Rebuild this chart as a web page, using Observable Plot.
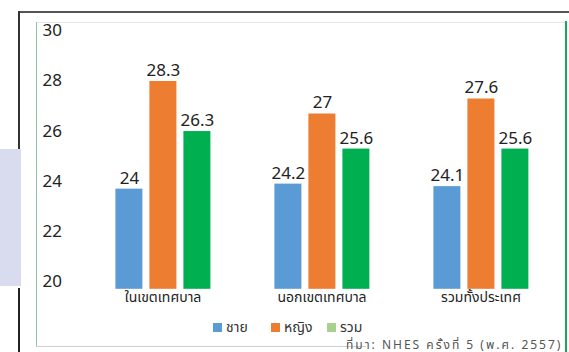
<!DOCTYPE html>
<html>
<head>
<meta charset="utf-8">
<script src="https://cdn.jsdelivr.net/npm/d3@7"></script>
<script src="https://cdn.jsdelivr.net/npm/@observablehq/plot@0.6"></script>
<style>
  html, body { margin: 0; padding: 0; background: #fff; }
  #wrap { position: relative; width: 569px; height: 352px; overflow: hidden; font-family: "Noto Sans", "Noto Sans Thai", "DejaVu Sans", sans-serif; }
  #wrap svg { position: absolute; left: 0; top: 0; }
  .deco { position: absolute; }
  .legend { position: absolute; top: 320px; left: 0; font-size: 14px; line-height: 14px; color: #333; }
  .legend .item { position: absolute; white-space: nowrap; display: flex; align-items: center; height: 14px; }
  .legend .sw { width: 9px; height: 9px; margin-right: 4px; display: inline-block; }
  .source { position: absolute; left: 346px; top: 338px; font-size: 12px; line-height: 13px; letter-spacing: 2px; color: #555; white-space: nowrap; }
</style>
</head>
<body>
<div id="wrap"></div>
<script>
const categories = ["ในเขตเทศบาล", "นอกเขตเทศบาล", "รวมทั้งประเทศ"];
const series = ["ชาย", "หญิง", "รวม"];
const male = [24, 24.2, 24.1];
const female = [28.3, 27, 27.6];
const total = [26.3, 25.6, 25.6];
const yTicks = [20, 22, 24, 26, 28, 30];
const barColors = ["#5b9bd5", "#ed7d31", "#00b050"];
const legendColors = ["#5b9bd5", "#ed7d31", "#a9d18e"];
const sourceText = "ที่มา: NHES ครั้งที่ 5 (พ.ศ. 2557)";

const seriesValues = [male, female, total];
const rows = [];
categories.forEach((c, i) => {
  series.forEach((s, j) => rows.push({cat: c, ser: s, value: seriesValues[j][i]}));
});

const font = '"Noto Sans", "Noto Sans Thai", "DejaVu Sans", sans-serif';

const chart = Plot.plot({
  width: 569,
  height: 352,
  marginTop: 38.4,
  marginBottom: 63.2,
  marginLeft: 81.6,
  marginRight: 8.2,
  style: {fontFamily: font, background: "transparent", color: "#222"},
  fx: {domain: categories, padding: 0, label: null},
  x: {domain: series, paddingInner: 0.2, paddingOuter: 0.88, axis: null},
  y: {domain: [20, 30], axis: null},
  color: {domain: series, range: barColors},
  marks: [
    Plot.barY(rows, {fx: "cat", x: "ser", y1: 20, y2: "value", fill: "ser"}),
    Plot.text(rows, {fx: "cat", x: "ser", y: "value", text: d => String(d.value), dy: -11, fontSize: 17, fill: "#222"}),
    Plot.axisY({ticks: yTicks, tickSize: 0, tickPadding: 21.6, dy: -8, fontSize: 17, label: null, tickFormat: d => String(d)}),
    Plot.axisFx({anchor: "bottom", tickSize: 0, tickPadding: 3, fontSize: 14, label: null})
  ]
});

const wrap = document.getElementById("wrap");
wrap.appendChild(chart);

function deco(l, t, w, h, bg) {
  const d = document.createElement("div");
  d.className = "deco";
  Object.assign(d.style, {left: l + "px", top: t + "px", width: w + "px", height: h + "px", background: bg});
  wrap.appendChild(d);
}
// outer frame and side block
deco(18, 11, 551, 2, "#555");
deco(18, 11, 2, 139, "#333");
deco(0, 149, 21, 137, "#d9dbef");
deco(18, 288, 2, 64, "#222");
// inner panel
deco(36, 22, 530, 1, "#e6e6e6");
deco(36, 22, 1, 324, "#8fc4ac");
deco(36, 346, 330, 1, "#cfcfcf");
deco(565, 21, 2, 331, "#17a852");

// legend
const legend = document.createElement("div");
legend.className = "legend";
const legendX = [213, 271, 327];
series.forEach((s, i) => {
  const it = document.createElement("div");
  it.className = "item";
  it.style.left = legendX[i] + "px";
  const sw = document.createElement("span");
  sw.className = "sw";
  sw.style.background = legendColors[i];
  it.appendChild(sw);
  it.appendChild(document.createTextNode(s));
  legend.appendChild(it);
});
wrap.appendChild(legend);

const src = document.createElement("div");
src.className = "source";
src.textContent = sourceText;
wrap.appendChild(src);
</script>
</body>
</html>
